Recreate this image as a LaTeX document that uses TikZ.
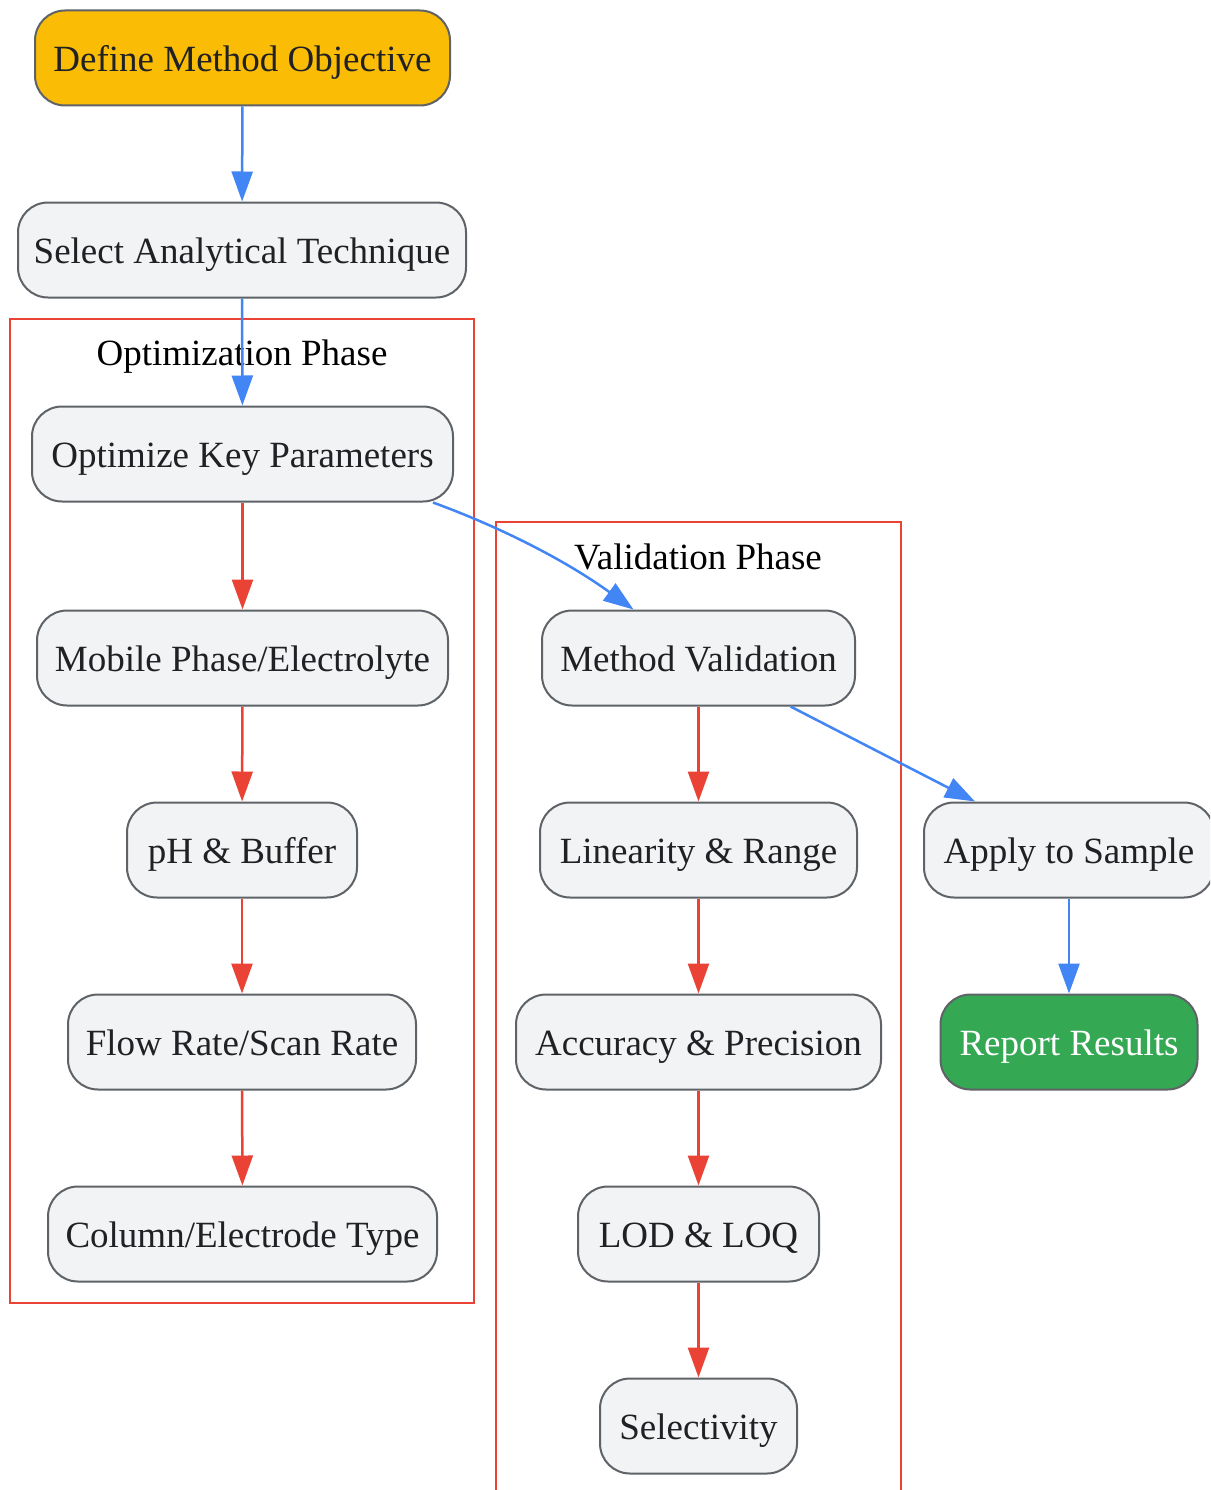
\documentclass[tikz,border=0pt]{standalone}
\usepackage{fontspec}
\setmainfont{Liberation Serif}
\usetikzlibrary{arrows.meta}
\definecolor{gfill}{HTML}{F1F3F4}
\definecolor{gline}{HTML}{5F6368}
\definecolor{gtext}{HTML}{202124}
\definecolor{gyellow}{HTML}{FBBC05}
\definecolor{ggreen}{HTML}{34A853}
\definecolor{gblue}{HTML}{4285F4}
\definecolor{gred}{HTML}{EA4335}
\tikzset{
  box/.style={draw=gline, line width=2pt, fill=gfill, rounded corners=30pt,
    minimum height=95pt, inner sep=0pt, text=gtext, text height=35pt, text depth=8pt,
    font=\fontsize{37}{44}\selectfont},
  startbox/.style={box, fill=gyellow},
  endbox/.style={box, fill=ggreen, text=white},
  cluster/.style={draw=gred, line width=2pt},
  clabel/.style={font=\fontsize{37}{44}\selectfont, text=black, inner sep=0pt, anchor=base},
  blueedge/.style={draw=gblue, line width=2.5pt, -{Triangle[length=30pt,width=21pt]}},
  rededge/.style={draw=gred, line width=2.5pt, -{Triangle[length=30pt,width=21pt]}},
}
\begin{document}
\begin{tikzpicture}[x=1pt,y=-1pt]
\clip (0,0) rectangle (1210,1490);
\fill[white] (0,0) rectangle (1210,1490);
% clusters
\draw[cluster] (10,319) rectangle (474,1303);
\node[clabel] (optlabel) at (242,365) {Optimization Phase};
\draw[cluster] (496,522) rectangle (901,1520);
\node[clabel] (vallabel) at (698,569) {Validation Phase};
% nodes
\node[startbox, minimum width=415pt] (def) at (242.5,58) {Define Method Objective};
\node[box, minimum width=448pt] (sel) at (242,250) {Select Analytical Technique};
\node[box, minimum width=421pt] (opt) at (242.5,454) {Optimize Key Parameters};
\node[box, minimum width=411pt] (mob) at (242.5,658) {Mobile Phase/Electrolyte};
\node[box, minimum width=230pt] (ph) at (242,850) {pH \& Buffer};
\node[box, minimum width=348pt] (flow) at (242,1042) {Flow Rate/Scan Rate};
\node[box, minimum width=389pt] (col) at (242.5,1234) {Column/Electrode Type};
\node[box, minimum width=313pt] (mv) at (698.5,658) {Method Validation};
\node[box, minimum width=317pt] (lin) at (698.5,850) {Linearity \& Range};
\node[box, minimum width=365pt] (acc) at (698.5,1042) {Accuracy \& Precision};
\node[box, minimum width=241pt] (lod) at (698.5,1234) {LOD \& LOQ};
\node[box, minimum width=197pt] (selc) at (698.5,1426) {Selectivity};
\node[box, minimum width=290pt] (app) at (1069,850) {Apply to Sample};
\node[endbox, minimum width=257pt] (rep) at (1069,1042) {Report Results};
% edges
\draw[blueedge] (def) -- (sel);
\draw[blueedge] (sel) -- (opt);
\draw[rededge] (opt) -- (mob);
\draw[rededge] (mob) -- (ph);
\draw[rededge] (ph) -- (flow);
\draw[rededge] (flow) -- (col);
\draw[blueedge] ([xshift=-21pt]opt.south east) .. controls (500,527) and (565,560) .. ([xshift=-65pt]mv.north);
\draw[rededge] (mv) -- (lin);
\draw[rededge] (lin) -- (acc);
\draw[rededge] (acc) -- (lod);
\draw[rededge] (lod) -- (selc);
\draw[blueedge] ([xshift=92pt]mv.south) -- ([xshift=-94pt]app.north);
\draw[blueedge] (app) -- (rep);
\end{tikzpicture}
\end{document}
